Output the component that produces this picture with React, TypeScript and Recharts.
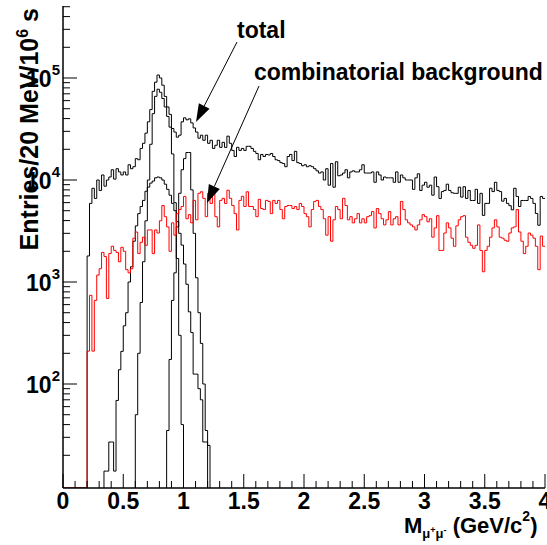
import React from 'react';
import { ComposedChart, Line, XAxis, YAxis } from 'recharts';

// ---------- data (entries per 20 MeV bin, bin index i -> mass 0.02*i GeV) ----------
const BIN_WIDTH = 0.02;
const N_BINS = 200;
const Y_MIN = 9.56;
const Y_MAX = 508000;

const totalCounts = [
  0, 0, 0, 0, 0, 0, 0, 0, 0, 0,
  1800, 5900, 8300, 6600, 10000, 7900, 11200, 8700, 10000, 10700,
  12600, 10200, 12900, 12000, 11200, 12000, 11200, 14100, 12900, 13500,
  16200, 15800, 20400, 22900, 28800, 37200, 49000, 74000, 91000, 107000,
  100000, 85000, 66000, 52000, 44000, 32000, 29500, 26300, 27500, 37200,
  40700, 38900, 39800, 36300, 32400, 29500, 25700, 27500, 24500, 27500,
  22900, 24500, 20400, 21900, 24500, 20900, 23400, 20900, 26900, 22900,
  19500, 17000, 20900, 19500, 20400, 19500, 21400, 21400, 20400, 19100,
  18200, 15800, 17800, 17000, 17800, 17600, 18200, 17000, 15800, 15500,
  14800, 14500, 13500, 17000, 17800, 15500, 19100, 14800, 14500, 13800,
  14100, 13500, 13800, 13500, 12900, 12300, 11700, 12000, 10000, 12900,
  8900, 14500, 8500, 15100, 11000, 11200, 11700, 12600, 10500, 12000,
  12300, 12000, 12000, 12600, 14100, 11700, 11700, 11700, 12000, 9500,
  12000, 11200, 10000, 10700, 10500, 10500, 10500, 9500, 12000, 9500,
  11200, 10500, 10000, 10000, 10000, 8100, 10500, 11500, 7900, 8900,
  9500, 8500, 8900, 7100, 10700, 8600, 6600, 7700, 7900, 9100,
  7900, 7500, 7400, 7400, 8500, 6800, 8600, 6600, 7900, 6300,
  6300, 8100, 5900, 7400, 4500, 5900, 5900, 8300, 7700, 9500,
  7900, 7700, 6200, 6600, 5900, 5600, 5100, 8300, 6900, 5500,
  6300, 6300, 6300, 6900, 6600, 5900, 4700, 3600, 6900, 6600,
];

const combinatorialCounts = [
  0, 0, 0, 0, 0, 0, 0, 0, 0, 0,
  210, 740, 210, 660, 1170, 1350, 1950, 1780, 690, 1900,
  2240, 2040, 1950, 1580, 2190, 2000, 1320, 1230, 1350, 2690,
  3090, 1900, 2450, 2750, 2290, 3240, 3240, 1900, 3240, 3020,
  3980, 5620, 4370, 3470, 2000, 3800, 2880, 4680, 5130, 5500,
  6900, 4170, 4570, 3800, 6310, 4070, 7410, 7670, 6610, 4370,
  7410, 5890, 7670, 4370, 3470, 6310, 6610, 5890, 7940, 6610,
  5620, 4680, 3240, 6310, 6920, 5500, 7670, 5500, 5500, 5130,
  4370, 6460, 5250, 5130, 6310, 6170, 4680, 6310, 5890, 6310,
  5130, 4170, 5500, 5620, 5620, 5250, 5500, 5130, 5890, 5500,
  4680, 4370, 3470, 5130, 6170, 6310, 5500, 5130, 4170, 2880,
  4370, 2510, 4070, 5500, 5130, 4170, 6610, 5620, 4070, 4370,
  3800, 4170, 4680, 3800, 4170, 3800, 4370, 4470, 4900, 3390,
  5250, 4680, 4170, 3630, 4070, 4900, 3630, 4170, 4370, 3630,
  6170, 5130, 4070, 3800, 3630, 3470, 3240, 3630, 4070, 4570,
  4370, 3890, 4170, 2750, 3390, 4470, 2040, 2040, 3020, 3800,
  3390, 2690, 2240, 3550, 4070, 4370, 4470, 2750, 2450, 2290,
  2140, 2290, 3630, 2040, 1260, 2040, 2240, 2750, 3390, 4070,
  3470, 2750, 2690, 2570, 2510, 3020, 3390, 3470, 5130, 3090,
  2510, 1900, 2240, 3020, 2880, 2690, 2240, 1320, 2820, 2240,
];

// omega peak, bins 30..49
const omegaStartBin = 30;
const omegaCounts = [
  50, 200, 630, 1580, 3980, 10000, 22400, 44700, 66100, 77600,
  72400, 63000, 52000, 42000, 33000, 18000, 6000, 1700, 300, 40,
];

// broad (rho-like) component, bins 17..59
const rhoStartBin = 17;
const rhoCounts = [
  14, 14, 27, 27, 14, 69, 138, 209, 372, 500,
  1000, 1410, 2510, 3550, 4680, 5500, 6310, 7760, 8510, 9330,
  9770, 10500, 10700, 10500, 10000, 9100, 8100, 7100, 5900, 5000,
  3900, 3000, 2300, 1500, 950, 510, 320, 125, 125, 90,
  70, 27, 27,
];

// phi peak, bins 43..60
const phiStartBin = 43;
const phiCounts = [
  35, 174, 660, 1230, 3470, 7410, 12600, 16200, 18600, 18600,
  8000, 3000, 1100, 500, 250, 100, 35, 25,
];

const xTickValues = [
  0, 0.1, 0.2, 0.3, 0.4, 0.5, 0.6, 0.7, 0.8, 0.9, 1, 1.1, 1.2, 1.3, 1.4, 1.5, 1.6, 1.7, 1.8, 1.9,
  2, 2.1, 2.2, 2.3, 2.4, 2.5, 2.6, 2.7, 2.8, 2.9, 3, 3.1, 3.2, 3.3, 3.4, 3.5, 3.6, 3.7, 3.8, 3.9, 4,
];
const yTickValues = [
  20, 30, 40, 50, 60, 70, 80, 90,
  100, 200, 300, 400, 500, 600, 700, 800, 900,
  1000, 2000, 3000, 4000, 5000, 6000, 7000, 8000, 9000,
  10000, 20000, 30000, 40000, 50000, 60000, 70000, 80000, 90000,
  100000, 200000, 300000, 400000, 500000,
];

// ---------- helpers ----------
type Pt = { m: number; v: number };
function histogram(startBin: number, counts: number[]): Pt[] {
  const pts: Pt[] = [{ m: startBin * BIN_WIDTH, v: Y_MIN }];
  counts.forEach((c, k) => {
    pts.push({ m: +((startBin + k) * BIN_WIDTH).toFixed(4), v: Math.max(c, Y_MIN) });
  });
  const end = startBin + counts.length;
  if (end >= N_BINS) {
    pts.push({ m: N_BINS * BIN_WIDTH, v: Math.max(counts[counts.length - 1], Y_MIN) });
  } else {
    pts.push({ m: +(end * BIN_WIDTH).toFixed(4), v: Y_MIN });
  }
  return pts;
}

const totalData = histogram(0, totalCounts);
const combData = histogram(0, combinatorialCounts);
const omegaData = histogram(omegaStartBin, omegaCounts);
const rhoData = histogram(rhoStartBin, rhoCounts);
const phiData = histogram(phiStartBin, phiCounts);

const FONT = '"Liberation Sans", Arial, Helvetica, sans-serif';

const XTick = (props: any) => {
  const { x, y, payload } = props;
  const v = payload.value as number;
  const major = Math.abs(v * 2 - Math.round(v * 2)) < 1e-6;
  return (
    <g>
      <line x1={x} y1={y} x2={x} y2={y - (major ? 14 : 7)} stroke="#000" strokeWidth={1} />
      {major && (
        <text x={x} y={y + 21} textAnchor="middle" fontFamily={FONT} fontWeight="bold" fontSize={23} fill="#000">
          {String(v)}
        </text>
      )}
    </g>
  );
};

const YTick = (props: any) => {
  const { x, y, payload } = props;
  const v = payload.value as number;
  const lg = Math.log10(v);
  const major = Math.abs(lg - Math.round(lg)) < 1e-6;
  return (
    <g>
      <line x1={x} y1={y} x2={x + (major ? 14 : 7)} y2={y} stroke="#000" strokeWidth={1} />
      {major && (
        <text x={x - 3} y={y + 9} textAnchor="end" fontFamily={FONT} fontWeight="bold" fontSize={23} fill="#000">
          10
          <tspan dy={-12} fontSize={15}>{String(Math.round(lg))}</tspan>
        </text>
      )}
    </g>
  );
};

function Arrow({ x1, y1, x2, y2 }: { x1: number; y1: number; x2: number; y2: number }) {
  const dx = x2 - x1;
  const dy = y2 - y1;
  const len = Math.hypot(dx, dy);
  const ux = dx / len;
  const uy = dy / len;
  const hl = 18;
  const hw = 6;
  const bx = x2 - ux * hl;
  const by = y2 - uy * hl;
  const p1 = `${bx - uy * hw},${by + ux * hw}`;
  const p2 = `${bx + uy * hw},${by - ux * hw}`;
  return (
    <g>
      <line x1={x1} y1={y1} x2={bx} y2={by} stroke="#000" strokeWidth={1} />
      <polygon points={`${x2},${y2} ${p1} ${p2}`} fill="#000" />
    </g>
  );
}

export default function App() {
  return (
    <div style={{ position: 'absolute', left: 0, top: 0, width: 547, height: 545, background: '#fff' }}>
      <ComposedChart width={547} height={545} margin={{ top: 6, right: 2, bottom: 0, left: 0 }}>
        <XAxis
          dataKey="m"
          type="number"
          domain={[0, 4]}
          ticks={xTickValues}
          interval={0}
          allowDataOverflow
          height={57}
          tickSize={0}
          tickMargin={0}
          tickLine={false}
          axisLine={{ stroke: '#000', strokeWidth: 1.5 }}
          tick={<XTick />}
        />
        <XAxis xAxisId="top" orientation="top" type="number" domain={[0, 4]} height={0} tick={false} tickLine={false} axisLine={{ stroke: '#000' }} />
        <YAxis
          dataKey="v"
          scale="log"
          type="number"
          domain={[Y_MIN, Y_MAX]}
          ticks={yTickValues}
          interval={0}
          allowDataOverflow
          width={63}
          tickSize={0}
          tickMargin={0}
          tickLine={false}
          axisLine={{ stroke: '#000', strokeWidth: 1.5 }}
          tick={<YTick />}
        />
        <YAxis yAxisId="right" orientation="right" width={0} tick={false} tickLine={false} axisLine={{ stroke: '#000' }} />
        <Line data={totalData} dataKey="v" type="stepAfter" stroke="#000" strokeWidth={1} dot={false} isAnimationActive={false} />
        <Line data={omegaData} dataKey="v" type="stepAfter" stroke="#000" strokeWidth={1} dot={false} isAnimationActive={false} />
        <Line data={rhoData} dataKey="v" type="stepAfter" stroke="#000" strokeWidth={1} dot={false} isAnimationActive={false} />
        <Line data={phiData} dataKey="v" type="stepAfter" stroke="#000" strokeWidth={1} dot={false} isAnimationActive={false} />
        <Line data={combData} dataKey="v" type="stepAfter" stroke="#ff0000" strokeWidth={1} dot={false} isAnimationActive={false} />
      </ComposedChart>
      <svg width={547} height={545} style={{ position: 'absolute', left: 0, top: 0, pointerEvents: 'none' }}>
        <text x={237} y={38} fontFamily={FONT} fontWeight="bold" fontSize={23} fill="#000">total</text>
        <text x={254} y={80} fontFamily={FONT} fontWeight="bold" fontSize={23} fill="#000">combinatorial background</text>
        <Arrow x1={237} y1={42} x2={196} y2={122} />
        <Arrow x1={259} y1={86} x2={207} y2={203} />
        <text transform="translate(38,8) rotate(-90)" textAnchor="end" fontFamily={FONT} fontWeight="bold" fontSize={25} fill="#000">
          Entries/20 MeV/10
          <tspan dy={-10} fontSize={16}>6</tspan>
          <tspan dy={10} fontSize={25}> s</tspan>
        </text>
        <text x={404} y={533} fontFamily={FONT} fontWeight="bold" fontSize={22} fill="#000">
          M
          <tspan dy={5} fontSize={13}>μ</tspan>
          <tspan dy={-5} fontSize={9}>+</tspan>
          <tspan dy={5} fontSize={13}>μ</tspan>
          <tspan dy={-5} fontSize={9}>-</tspan>
          <tspan dy={0} fontSize={22}> (GeV/c</tspan>
          <tspan dy={-12} fontSize={14}>2</tspan>
          <tspan dy={12} fontSize={22}>)</tspan>
        </text>
      </svg>
    </div>
  );
}
